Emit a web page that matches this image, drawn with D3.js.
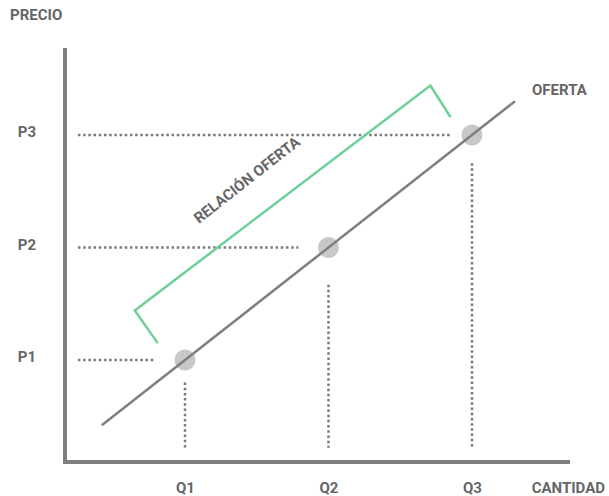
<!DOCTYPE html>
<html><head><meta charset="utf-8">
<script src="https://cdn.jsdelivr.net/npm/d3@7"></script>
<style>
body{margin:0;background:#fff;}
text{font-family:Roboto, "Noto Sans", sans-serif;font-weight:700;fill:#666;}
</style></head>
<body>
<svg id="c" width="609" height="496"></svg>
<script>
// Data
const quantities = [1, 2, 3];
const quantityLabels = ["Q1", "Q2", "Q3"];
const prices = [1, 2, 3];
const priceLabels = ["P1", "P2", "P3"];
const points = [{q:1,p:1},{q:2,p:2},{q:3,p:3}];
const supplyLine = [{q:0.42,p:0.42},{q:3.3,p:3.3}];
const bracket = [{q:0.81,p:1.15},{q:0.65,p:1.44},{q:2.71,p:3.44},{q:2.85,p:3.16}];
const hGuideStart = 0.254;
const hGuideEnds = [0.78, 1.79, 2.85];
const vGuideStarts = [0.80, 1.67, 2.75];
const vGuideEnd = 0.22;

const svg = d3.select("#c");
const x = d3.scaleLinear().domain([1,3]).range([185,472]);
const y = d3.scaleLinear().domain([1,3]).range([360,135]);

// axes frame
svg.append("line").attr("x1",65).attr("x2",65).attr("y1",48).attr("y2",464)
  .attr("stroke","#7f7f7f").attr("stroke-width",4);
svg.append("line").attr("x1",63).attr("x2",570).attr("y1",462).attr("y2",462)
  .attr("stroke","#7f7f7f").attr("stroke-width",4);

// guides
const dot = {stroke:"#7a7a7a", w:2.5, dash:"2.5,2.7"};
prices.forEach((p,i)=>{
  svg.append("line").attr("x1",x(hGuideStart)).attr("x2",x(hGuideEnds[i]))
    .attr("y1",y(p)).attr("y2",y(p))
    .attr("stroke",dot.stroke).attr("stroke-width",dot.w).attr("stroke-dasharray",dot.dash);
});
quantities.forEach((q,i)=>{
  svg.append("line").attr("x1",x(q)).attr("x2",x(q))
    .attr("y1",y(vGuideStarts[i])).attr("y2",y(vGuideEnd))
    .attr("stroke",dot.stroke).attr("stroke-width",dot.w).attr("stroke-dasharray",dot.dash);
});

// bracket
const line = d3.line().x(d=>x(d.q)).y(d=>y(d.p));
svg.append("path").attr("d",line(bracket)).attr("fill","none")
  .attr("stroke","#6ecf98").attr("stroke-width",2.5).attr("stroke-linejoin","miter");

// points
svg.selectAll("circle.pt").data(points).enter().append("circle")
  .attr("cx",d=>x(d.q)).attr("cy",d=>y(d.p)).attr("r",10.5).attr("fill","#c8c8c8");

// supply line
svg.append("path").attr("d",line(supplyLine)).attr("fill","none")
  .attr("stroke","#7f7f7f").attr("stroke-width",2.5);

const FS = 15;
// axis labels via d3 axes
const xAxis = svg.append("g").attr("transform","translate(0,488)")
  .call(d3.axisBottom(x).tickValues(quantities).tickFormat((d,i)=>quantityLabels[i]).tickSize(0).tickPadding(0));
xAxis.select(".domain").remove();
xAxis.selectAll("text").attr("font-size",FS).attr("dy","0.35em").style("font-family","Roboto").style("font-weight",700).attr("fill","#666");

const yAxis = svg.append("g").attr("transform","translate(36,-3)")
  .call(d3.axisLeft(y).tickValues(prices).tickFormat((d,i)=>priceLabels[i]).tickSize(0).tickPadding(0));
yAxis.select(".domain").remove();
yAxis.selectAll("text").attr("font-size",FS).style("font-family","Roboto").style("font-weight",700).attr("fill","#666");

svg.append("text").attr("x",10).attr("y",20).attr("font-size",FS).text("PRECIO");
svg.append("text").attr("x",605).attr("y",493).attr("text-anchor","end").attr("font-size",FS).text("CANTIDAD");
svg.append("text").attr("x",532).attr("y",95).attr("font-size",FS).text("OFERTA");

// rotated label
const ang = Math.atan2(y(3)-y(1), x(3)-x(1))*180/Math.PI;
svg.append("text").attr("transform",`translate(250,184) rotate(${ang})`)
  .attr("text-anchor","middle").attr("font-size",FS).text("RELACIÓN OFERTA");
</script>
</body></html>
